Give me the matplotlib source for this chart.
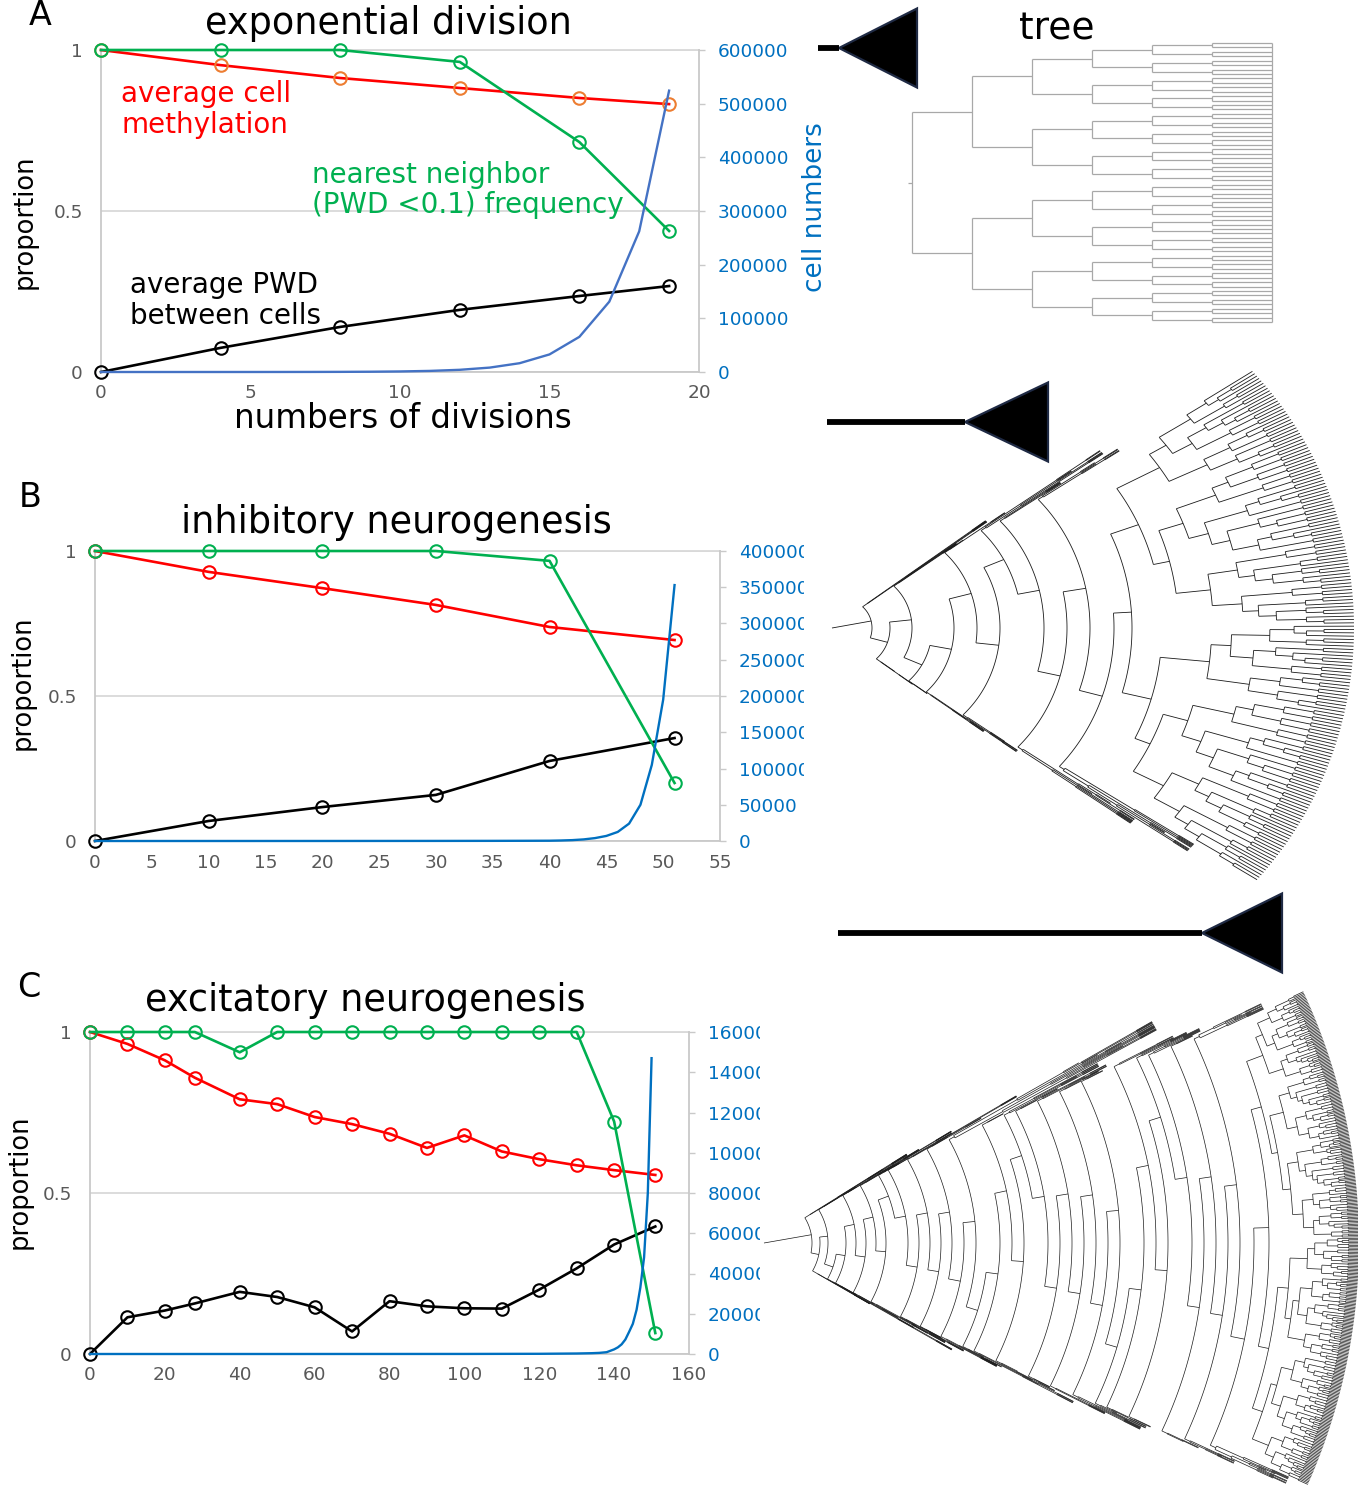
import numpy as np
import matplotlib
matplotlib.use("Agg")
import matplotlib.pyplot as plt
from matplotlib.collections import LineCollection
from matplotlib.patches import Rectangle, Polygon

plt.rcParams['font.family'] = ['DejaVu Sans']

W, H = 1358, 1500

# ---- data: A exponential division
div_a = [0, 4, 8, 12, 16, 19]
meth_a = [1.0, 0.953, 0.913, 0.882, 0.851, 0.832]
nn_a = [1.0, 1.0, 1.0, 0.963, 0.714, 0.438]
pwd_a = [0.0, 0.075, 0.140, 0.193, 0.236, 0.267]
cells_div_a = [0, 1, 2, 3, 4, 5, 6, 7, 8, 9, 10, 11, 12, 13, 14, 15, 16, 17, 18, 19]
cells_a = [1, 2, 4, 8, 16, 32, 64, 128, 256, 512, 1024, 2048, 4096, 8192,
           16384, 32768, 65536, 131072, 262144, 524288]

# ---- data: B inhibitory neurogenesis
div_b = [0, 10, 20, 30, 40, 51]
meth_b = [1.0, 0.928, 0.872, 0.814, 0.738, 0.693]
nn_b = [1.0, 1.0, 1.0, 1.0, 0.966, 0.200]
pwd_b = [0.0, 0.069, 0.117, 0.159, 0.276, 0.355]
cells_div_b = [0, 10, 20, 30, 35, 38, 40, 41, 42, 43, 44, 45, 46, 47, 48, 49, 50, 51]
cells_b = [1, 10, 40, 120, 200, 300, 400, 700, 1200, 2200, 4000, 7000,
           12500, 24000, 50000, 105000, 195000, 353000]

# ---- data: C excitatory neurogenesis
div_c = [0, 10, 20, 28, 40, 50, 60, 70, 80, 90, 100, 110, 120, 130, 140, 151]
meth_c = [1.0, 0.963, 0.912, 0.858, 0.791, 0.776, 0.736, 0.714, 0.684, 0.640,
          0.679, 0.629, 0.605, 0.586, 0.571, 0.556]
nn_c = [1.0, 1.0, 1.0, 1.0, 0.937, 1.0, 1.0, 1.0, 1.0, 1.0, 1.0, 1.0, 1.0, 1.0,
        0.722, 0.065]
pwd_c = [0.0, 0.114, 0.135, 0.157, 0.193, 0.177, 0.145, 0.070, 0.164, 0.148,
         0.142, 0.141, 0.200, 0.266, 0.340, 0.396]
cells_div_c = [0, 50, 100, 120, 130, 134, 136, 138, 139, 140, 141, 142, 143,
               144, 145, 146, 147, 148, 149, 150]
cells_c = [1, 5, 30, 100, 250, 400, 550, 900, 1600, 2300, 3300, 4800, 7200,
           11000, 15000, 22000, 33000, 48000, 80000, 147000]

# tick labels
prop_ticks = [0, 0.5, 1]
prop_labels = ['0', '0.5', '1']
xticks_a = [0, 5, 10, 15, 20]
xticks_b = [0, 5, 10, 15, 20, 25, 30, 35, 40, 45, 50, 55]
xticks_c = [0, 20, 40, 60, 80, 100, 120, 140, 160]
cell_ticks_a = [0, 100000, 200000, 300000, 400000, 500000, 600000]
cell_ticks_b = [0, 50000, 100000, 150000, 200000, 250000, 300000, 350000, 400000]
cell_ticks_c = [0, 20000, 40000, 60000, 80000, 100000, 120000, 140000, 160000]

RED, GREEN, ORANGE = '#FF0000', '#00B050', '#ED7D31'
BLUE, BLUE_A, GRAY = '#0070C0', '#4472C4', '#595959'

fig = plt.figure(figsize=(W / 100, H / 100), dpi=100)


def px_axes(left, right, top, bottom):
    return fig.add_axes([left / W, 1 - bottom / H, (right - left) / W, (bottom - top) / H])


def ftext(x, y, s, **kw):
    fig.text(x / W, 1 - y / H, s, **kw)


def panel(box, xmax, xticks, cticks, div, meth, nn, pwd, cdiv, cells, meth_edge, blue):
    ax = px_axes(*box)
    ax.set_xlim(0, xmax)
    ax.set_ylim(0, 1)
    for s in ['top', 'right']:
        ax.spines[s].set_visible(False)
    for s in ['left', 'bottom']:
        ax.spines[s].set_color('#C9C9C9')
        ax.spines[s].set_linewidth(1.3)
    ax.set_yticks(prop_ticks)
    ax.set_yticklabels(prop_labels)
    ax.set_xticks(xticks)
    ax.tick_params(axis='y', length=0, pad=13, labelsize=13.3, labelcolor=GRAY)
    ax.tick_params(axis='x', length=0, pad=9, labelsize=13.3, labelcolor=GRAY)
    ax.yaxis.grid(True, color='#D9D9D9', lw=1.3)
    ax.axhline(1, color='#D9D9D9', lw=1.3, clip_on=False, zorder=1)
    ax.set_axisbelow(True)
    mk = dict(marker='o', ms=9, mfc='none', mew=1.5, lw=1.9, clip_on=False, zorder=3)
    ax.plot(div, meth, color=RED, mec=meth_edge, **mk)
    ax.plot(div, pwd, color='black', mec='black', **mk)
    ax.plot(div, nn, color=GREEN, mec=GREEN, **mk)

    ax2 = ax.twinx()
    ax2.set_ylim(0, cticks[-1])
    for s in ['top', 'left', 'bottom']:
        ax2.spines[s].set_visible(False)
    ax2.spines['right'].set_color('#C9C9C9')
    ax2.spines['right'].set_linewidth(1.3)
    ax2.set_yticks(cticks)
    ax2.set_yticklabels([str(v) for v in cticks])
    ax2.tick_params(axis='y', length=4.5, width=1, color='#C9C9C9', pad=9,
                    labelsize=13.3, labelcolor=BLUE)
    ax2.plot(cdiv, cells, color=blue, lw=1.7, clip_on=False, zorder=4)
    return ax, ax2


panel((101, 699, 50, 372), 20, xticks_a, cell_ticks_a, div_a, meth_a, nn_a, pwd_a,
      cells_div_a, cells_a, ORANGE, BLUE_A)
panel((95, 720, 551, 841), 55, xticks_b, cell_ticks_b, div_b, meth_b, nn_b, pwd_b,
      cells_div_b, cells_b, RED, BLUE)
panel((90, 689, 1032, 1354), 160, xticks_c, cell_ticks_c, div_c, meth_c, nn_c, pwd_c,
      cells_div_c, cells_c, RED, BLUE)

# hide the cut-off ends of the right tick labels, as in the original
fig.add_artist(Rectangle((804 / W, 1 - 850 / H), 30 / W, 310 / H, transform=fig.transFigure,
                         facecolor='white', edgecolor='none', zorder=2))
fig.add_artist(Rectangle((760 / W, 1 - 1366 / H), 40 / W, 346 / H, transform=fig.transFigure,
                         facecolor='white', edgecolor='none', zorder=2))

# ---- texts
ftext(29, 25, 'A', fontsize=24, va='baseline')
ftext(19, 507, 'B', fontsize=24, va='baseline')
ftext(17, 997, 'C', fontsize=24, va='baseline')
ftext(388, 34, 'exponential division', fontsize=26.4, ha='center', va='baseline')
ftext(396, 533, 'inhibitory neurogenesis', fontsize=26.4, ha='center', va='baseline')
ftext(365, 1011, 'excitatory neurogenesis', fontsize=26.4, ha='center', va='baseline')
ftext(403, 428, 'numbers of divisions', fontsize=23.5, ha='center', va='baseline')
ftext(25, 222, 'proportion', fontsize=18.5, rotation=90, ha='center', va='center')
ftext(23, 683, 'proportion', fontsize=18.5, rotation=90, ha='center', va='center')
ftext(20, 1182, 'proportion', fontsize=18.5, rotation=90, ha='center', va='center')
ftext(815, 207, 'cell numbers', fontsize=18.9, rotation=90, ha='center', va='center', color=BLUE)
ftext(121, 102, 'average cell', fontsize=20, color=RED, va='baseline')
ftext(121, 133, 'methylation', fontsize=20, color=RED, va='baseline')
ftext(312, 183, 'nearest neighbor', fontsize=20, color=GREEN, va='baseline')
ftext(312, 213, '(PWD <0.1) frequency', fontsize=20, color=GREEN, va='baseline')
ftext(130, 293, 'average PWD', fontsize=20, color='black', va='baseline')
ftext(130, 324, 'between cells', fontsize=20, color='black', va='baseline')
ftext(1019, 39, 'tree', fontsize=27, va='baseline')

# ---- overlay for trees (pixel coordinates)
tx = fig.add_axes([0, 0, 1, 1], zorder=3)
tx.set_xlim(0, W)
tx.set_ylim(H, 0)
tx.axis('off')
tx.patch.set_visible(False)

# bars with triangles: (bar start x, triangle apex x, base x, y)
markers_tri = [(818, 839, 917, 48), (827, 965, 1048, 422), (838, 1202, 1282, 933)]
for x0, xa, xb, yc in markers_tri:
    tx.plot([x0, xa], [yc, yc], color='black', lw=4.2, solid_capstyle='butt')
    tx.add_patch(Polygon([(xa, yc), (xb, yc - 39.5), (xb, yc + 39.5)], closed=True,
                         facecolor='black', edgecolor='#1F2A44', lw=1.6))

# A: balanced binary tree, 64 leaves
rect_levels = 6
rx0, rstep, ry_top, ry_bot = 912, 60, 43, 322
n_rect = 2 ** rect_levels
leaf_y = ry_top + (ry_bot - ry_top) * np.arange(n_rect) / (n_rect - 1)
rsegs = []


def rect_tree(level, lo, hi):
    if hi - lo == 1:
        return leaf_y[lo]
    mid = (lo + hi) // 2
    ya = rect_tree(level + 1, lo, mid)
    yb = rect_tree(level + 1, mid, hi)
    x = rx0 + rstep * level
    rsegs.append([(x, ya), (x, yb)])
    rsegs.append([(x, ya), (x + rstep, ya)])
    rsegs.append([(x, yb), (x + rstep, yb)])
    return (ya + yb) / 2


yr = rect_tree(0, 0, n_rect)
rsegs.append([(rx0 - 4, yr), (rx0, yr)])
rsegs.append([(rx0 + rstep * rect_levels, ry_top), (rx0 + rstep * rect_levels, ry_bot)])
tx.add_collection(LineCollection(rsegs, colors='#A8A8A8', linewidths=0.9))

# fan trees
split_pattern = [0.5, 0.32, 0.62, 0.42, 0.56, 0.36, 0.68, 0.46, 0.52, 0.28, 0.6, 0.4]


def make_clade(n, r0, r1, ntot, state, twig=None, parent_r=None, w=1.0):
    if n == 1:
        if twig is not None and parent_r is not None:
            return {'r': min(parent_r + twig, r1), 'kids': [], 'w': w}
        return {'r': r1, 'kids': [], 'w': w}
    r = r1 - (r1 - r0) * np.log2(n) / np.log2(ntot)
    f = split_pattern[state[0] % len(split_pattern)]
    state[0] += 1
    a = min(n - 1, max(1, int(round(n * f))))
    return {'r': r, 'kids': [make_clade(a, r0, r1, ntot, state, twig, r, w),
                             make_clade(n - a, r0, r1, ntot, state, twig, r, w)]}


def make_fan(trunk_r, side_n, side_len, side_top, core_n, core_r, side_w):
    state = [0]
    node = make_clade(core_n, core_r[0], core_r[1], core_n, state)
    for i in reversed(range(len(trunk_r))):
        r = trunk_r[i]
        side = make_clade(side_n[i], r + 6, r + side_len[i], max(side_n[i], 2), state,
                          twig=18, w=side_w)
        node = {'r': r, 'kids': [side, node] if side_top[i] else [node, side]}
    return node


def collect_leaves(node, acc):
    if not node['kids']:
        node['c'] = acc[0] + node['w'] / 2
        acc[0] += node['w']
    for k in node['kids']:
        collect_leaves(k, acc)


def set_angles(node, th_top, th_bot, total):
    if not node['kids']:
        node['a'] = th_top - node['c'] / total * (th_top - th_bot)
        return
    for k in node['kids']:
        set_angles(k, th_top, th_bot, total)
    node['a'] = (node['kids'][0]['a'] + node['kids'][-1]['a']) / 2


def fan_segs(node, pt, segs):
    kids = node['kids']
    if not kids:
        return
    a0, a1 = kids[0]['a'], kids[-1]['a']
    npt = max(2, int(abs(a1 - a0) * 2) + 2)
    segs.append([pt(node['r'], a) for a in np.linspace(a0, a1, npt)])
    for k in kids:
        segs.append([pt(node['r'], k['a']), pt(k['r'], k['a'])])
        fan_segs(k, pt, segs)


def draw_fan(origin, angles, trunk_r, side_n, side_len, side_top, core_n, core_r, lw,
             side_w, edge_shrink):
    root = make_fan(trunk_r, side_n, side_len, side_top, core_n, core_r, side_w)
    acc = [0.0]
    collect_leaves(root, acc)
    set_angles(root, angles[0], angles[1], acc[0])
    ox, oy = origin
    amax = max(abs(angles[0]), abs(angles[1]))

    def pt(r, a):
        t = np.radians(a)
        rr = r * (1 - edge_shrink * (a / amax) ** 2)
        return (ox + rr * np.cos(t), oy - rr * np.sin(t))

    segs = [[(ox, oy), pt(root['r'], root['a'])]]
    fan_segs(root, pt, segs)
    tx.add_collection(LineCollection(segs, colors='#1A1A1A', linewidths=lw))


# B tree
trunk_b = [40, 58, 80, 100, 122, 145, 168, 190, 212, 235, 258, 282]
side_n_b = [6, 3, 4, 2, 5, 3, 6, 8, 4, 10, 6, 12]
side_len_b = [230, 70, 120, 60, 95, 150, 80, 200, 110, 180, 130, 200]
side_top_b = [1, 0, 1, 0, 0, 1, 0, 1, 1, 0, 1, 0]
draw_fan((832, 628), (35, -35), trunk_b, side_n_b, side_len_b, side_top_b, 170, (300, 522),
         0.6, 0.3, 0.07)

# C tree
trunk_c = [48, 56, 64, 73, 82, 92, 102, 112, 122, 133, 144, 155, 166, 177, 188, 200,
           212, 224, 236, 248, 260, 272, 284, 296, 308, 320, 332, 344, 356, 368, 380,
           392, 404, 416, 428, 440, 452, 464, 476, 490]
side_n_c = [8, 4, 3, 6, 2, 5, 3, 4, 7, 2, 3, 5, 4, 2, 3, 6, 20, 3, 5, 2, 4, 8, 3, 2,
            5, 4, 3, 6, 2, 4, 3, 5, 2, 4, 6, 3, 2, 5, 10, 12]
side_len_c = [150, 90, 60, 200, 50, 120, 80, 170, 100, 60, 140, 90, 210, 50, 110, 70,
              280, 60, 160, 60, 90, 130, 70, 50, 100, 80, 60, 90, 50, 70, 60, 80, 40,
              70, 60, 50, 40, 60, 80, 90]
side_top_c = [1, 0, 1, 0, 0, 1, 0, 1, 0, 1, 1, 0, 1, 0, 1, 0, 1, 0, 0, 1, 0, 1, 1, 0,
              1, 0, 1, 0, 1, 0, 0, 1, 0, 1, 1, 0, 1, 0, 1, 0]
draw_fan((764, 1243), (32, -30), trunk_c, side_n_c, side_len_c, side_top_c, 360, (505, 595),
         0.5, 0.5, 0.0)

fig.savefig('out.png', dpi=100)
